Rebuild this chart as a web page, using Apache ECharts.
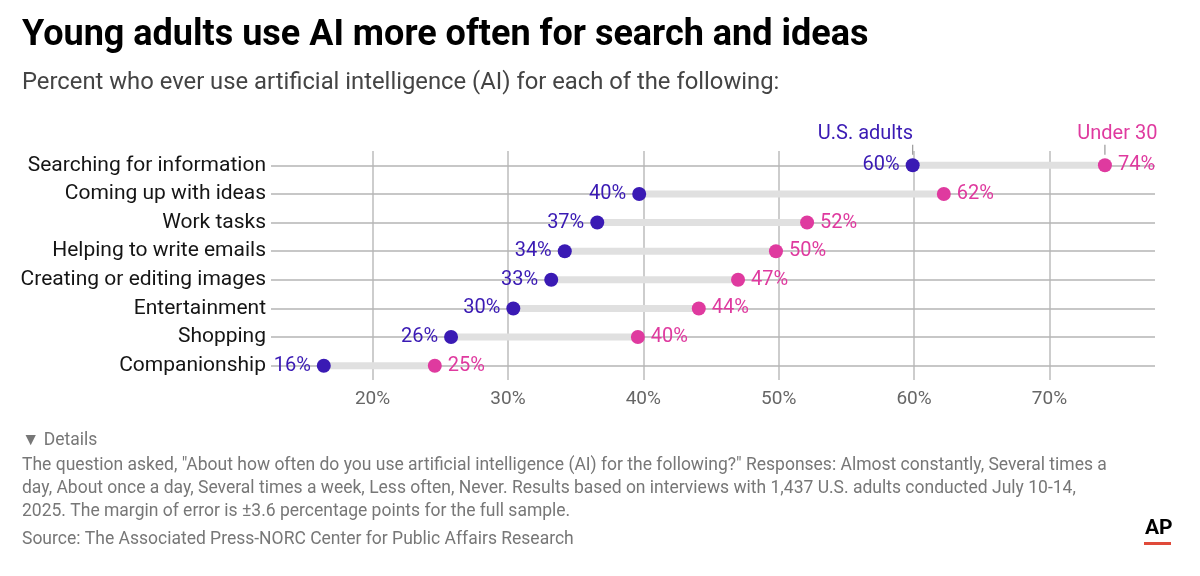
<!DOCTYPE html>
<html>
<head>
<meta charset="utf-8">
<script src="https://cdn.jsdelivr.net/npm/echarts@6/dist/echarts.min.js"></script>
<style>
  html, body { margin: 0; padding: 0; background: #fff; }
  #chart { width: 1200px; height: 576px; }
</style>
</head>
<body>
<div id="chart"></div>
<script>
// 数据
var categories = ['Searching for information', 'Coming up with ideas', 'Work tasks', 'Helping to write emails',
  'Creating or editing images', 'Entertainment', 'Shopping', 'Companionship'];
var usAdults = [59.9, 39.7, 36.6, 34.2, 33.2, 30.4, 25.8, 16.4];
var under30 = [74.1, 62.2, 52.1, 49.8, 47.0, 44.1, 39.6, 24.6];
var seriesNames = ['U.S. adults', 'Under 30'];
var footLines = [
  'The question asked, "About how often do you use artificial intelligence (AI) for the following?" Responses: Almost constantly, Several times a',
  'day, About once a day, Several times a week, Less often, Never. Results based on interviews with 1,437 U.S. adults conducted July 10-14,',
  '2025. The margin of error is \u00b13.6 percentage points for the full sample.'
];

var FONT = 'Roboto';
var BLUE = '#3a1ab4';
var PINK = '#df3a9f';

var myChart = echarts.init(document.getElementById('chart'));

function pct(p) { return Math.round(p.value[0]) + '%'; }

var option = {
  animation: false,
  backgroundColor: '#fff',
  textStyle: { fontFamily: FONT },
  title: [
    { text: 'Young adults use AI more often for search and ideas', left: 22, top: 18, padding: 0,
      textStyle: { fontFamily: FONT, fontWeight: 'bold', fontSize: 36, color: '#000' } },
    { text: 'Percent who ever use artificial intelligence (AI) for each of the following:', left: 22, top: 71, padding: 0,
      textStyle: { fontFamily: FONT, fontWeight: 'normal', fontSize: 23.8, color: '#444' } }
  ],
  graphic: [
    { type: 'text', left: 22, top: 432, style: { text: '\u25bc Details', font: '17.5px ' + FONT, fill: '#777' } },
    { type: 'text', left: 22, top: 454, style: { text: footLines.join('\n'), font: '17.5px ' + FONT, fill: '#777', lineHeight: 23 } },
    { type: 'text', left: 22, top: 531, style: { text: 'Source: The Associated Press-NORC Center for Public Affairs Research', font: '17.5px ' + FONT, fill: '#777' } },
    { type: 'text', left: 1145, top: 518, style: { text: 'AP', font: 'bold 21px ' + FONT, fill: '#000' } },
    { type: 'rect', left: 1144, top: 542, shape: { width: 27, height: 3 }, style: { fill: '#e04a3a' } }
  ],
  grid: { left: 271, right: 45, top: 151, height: 229 },
  xAxis: {
    type: 'value',
    min: 12.5,
    max: 77.8,
    axisLine: { show: false },
    axisTick: { show: false },
    axisLabel: {
      margin: 10, fontSize: 19, color: '#666', fontFamily: FONT,
      formatter: function (v) { return Math.abs(v % 10) < 1e-6 ? v + '%' : ''; }
    },
    splitLine: { show: true, showMinLine: false, showMaxLine: false, lineStyle: { color: '#bdbdbd', width: 1.5 } }
  },
  yAxis: {
    type: 'category',
    data: categories,
    inverse: true,
    axisLine: { show: false },
    axisTick: { show: false },
    splitLine: { show: false },
    axisLabel: { margin: 5, fontSize: 21, color: '#151515', fontFamily: FONT }
  },
  series: [
    {
      // 连接线 + 横向网格
      type: 'custom',
      silent: true,
      z: 2,
      data: categories.map(function (c, i) { return [usAdults[i], under30[i], i]; }),
      renderItem: function (params, api) {
        var a = api.coord([api.value(0), api.value(2)]);
        var b = api.coord([api.value(1), api.value(2)]);
        return {
          type: 'line',
          shape: { x1: a[0], y1: a[1], x2: b[0], y2: b[1] },
          style: { stroke: '#e0e0e0', lineWidth: 7 }
        };
      },
      markLine: {
        silent: true,
        symbol: 'none',
        z: 1,
        label: { show: false },
        lineStyle: { color: '#b5b5b5', width: 1.5, type: 'solid' },
        data: categories.map(function (c) { return { yAxis: c }; })
      }
    },
    {
      name: seriesNames[0],
      type: 'scatter',
      z: 5,
      symbolSize: 14,
      itemStyle: { color: BLUE, opacity: 1 },
      data: categories.map(function (c, i) { return [usAdults[i], c]; }),
      label: { show: true, position: 'left', distance: 6, formatter: pct, color: BLUE, fontSize: 20, fontFamily: FONT },
      markPoint: {
        silent: true,
        symbol: 'rect',
        symbolSize: [1.2, 10],
        symbolOffset: [0, -15.5],
        itemStyle: { color: '#999' },
        label: { show: true, position: [1, -1], align: 'right', verticalAlign: 'bottom', formatter: seriesNames[0], color: BLUE, fontSize: 20, fontFamily: FONT },
        data: [{ coord: [usAdults[0], categories[0]] }]
      }
    },
    {
      name: seriesNames[1],
      type: 'scatter',
      z: 5,
      symbolSize: 14,
      itemStyle: { color: PINK, opacity: 1 },
      data: categories.map(function (c, i) { return [under30[i], c]; }),
      label: { show: true, position: 'right', distance: 6, formatter: pct, color: PINK, fontSize: 20, fontFamily: FONT },
      markPoint: {
        silent: true,
        symbol: 'rect',
        symbolSize: [1.2, 10],
        symbolOffset: [0, -15.5],
        itemStyle: { color: '#999' },
        label: { show: true, position: [-27, -1], align: 'left', verticalAlign: 'bottom', formatter: seriesNames[1], color: PINK, fontSize: 20, fontFamily: FONT },
        data: [{ coord: [under30[0], categories[0]] }]
      }
    }
  ]
};
myChart.setOption(option);
</script>
</body>
</html>
